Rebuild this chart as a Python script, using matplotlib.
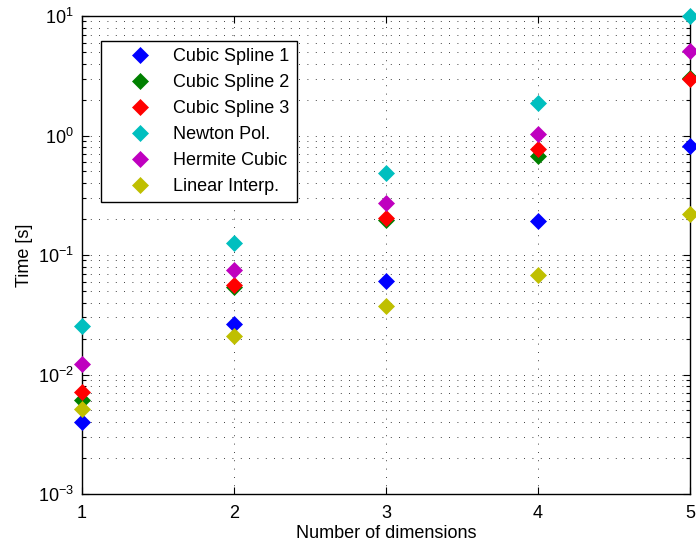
import matplotlib
matplotlib.use("Agg")
import matplotlib.pyplot as plt
from matplotlib.ticker import LogLocator, FixedLocator, NullFormatter

plt.rcParams['font.family'] = ['Liberation Sans', 'DejaVu Sans']
plt.rcParams['mathtext.fontset'] = 'custom'
plt.rcParams['mathtext.rm'] = 'Liberation Sans'
plt.rcParams['mathtext.it'] = 'Liberation Sans'

dims = [1, 2, 3, 4, 5]
series_names = ["Cubic Spline 1", "Cubic Spline 2", "Cubic Spline 3",
                "Newton Pol.", "Hermite Cubic", "Linear Interp."]
cubic_spline_1 = [0.0040, 0.0265, 0.061, 0.193, 0.81]
cubic_spline_2 = [0.0061, 0.054, 0.196, 0.67, 3.05]
cubic_spline_3 = [0.0071, 0.056, 0.205, 0.77, 2.95]
newton_pol = [0.0253, 0.126, 0.489, 1.88, 10.0]
hermite_cubic = [0.0122, 0.075, 0.270, 1.03, 5.09]
linear_interp = [0.0051, 0.0211, 0.0374, 0.068, 0.219]
series_values = [cubic_spline_1, cubic_spline_2, cubic_spline_3,
                 newton_pol, hermite_cubic, linear_interp]
colors = [(0, 0, 1), (0, 0.5, 0), (1, 0, 0),
          (0, 0.75, 0.75), (0.75, 0, 0.75), (0.75, 0.75, 0)]

fig = plt.figure(figsize=(6.96, 5.47), dpi=100)
ax = fig.add_axes([0.1178, 0.0969, 0.8736, 0.8738])

for name, vals, c in zip(series_names, series_values, colors):
    ax.plot(dims, vals, linestyle='none', marker='D', markersize=7.8,
            markerfacecolor=c, markeredgecolor=c, markeredgewidth=0.5,
            label=name, clip_on=False, zorder=3)

ax.set_yscale('log')
ax.set_xlim(1, 5)
ax.set_ylim(1e-3, 1e1)
ax.xaxis.set_major_locator(FixedLocator(dims))
ax.yaxis.set_major_locator(LogLocator(base=10, numticks=10))
ax.yaxis.set_minor_locator(LogLocator(base=10, subs=range(2, 10), numticks=20))
ax.yaxis.set_minor_formatter(NullFormatter())

grid_style = dict(color='black', linestyle=(0, (1, 9)), linewidth=0.6)
ax.grid(True, which='major', axis='both', **grid_style)
ax.grid(True, which='minor', axis='y', **grid_style)
ax.set_axisbelow(True)

ax.tick_params(which='both', direction='in', top=True, right=True,
               labelsize=13, colors='black', width=0.8)
ax.tick_params(which='major', length=5, pad=6)
ax.tick_params(axis='x', which='major', pad=8)
ax.tick_params(which='minor', length=3)
for s in ax.spines.values():
    s.set_linewidth(1.0)

ax.set_xlabel("Number of dimensions", fontsize=13, labelpad=2)
ax.set_ylabel("Time [s]", fontsize=13, labelpad=3)

leg = ax.legend(loc='upper left', bbox_to_anchor=(0.031, 0.948),
                fontsize=13, frameon=True, fancybox=False, framealpha=1,
                edgecolor='black', borderpad=0.4, labelspacing=0.5,
                handletextpad=0.1, handlelength=3.5, borderaxespad=0)
leg.get_frame().set_linewidth(1.0)

fig.savefig("out.png", dpi=100)
